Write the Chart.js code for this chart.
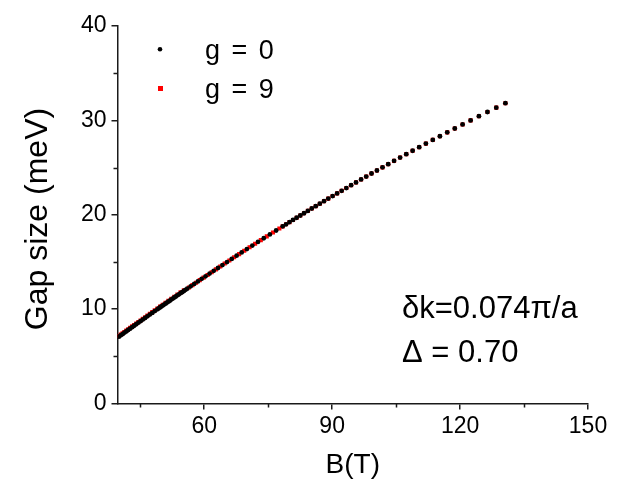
<!DOCTYPE html>
<html>
<head>
<meta charset="utf-8">
<script src="https://cdn.jsdelivr.net/npm/chart.js@4.4.1/dist/chart.umd.min.js"></script>
<style>
  html, body { margin: 0; padding: 0; background: #fff; }
  #wrap { width: 633px; height: 493px; }
</style>
</head>
<body>
<div id="wrap"><canvas id="c" width="633" height="493"></canvas></div>
<script>
// ---- data ----
const bField0 = [130.63,128.49,126.42,124.42,122.47,120.59,118.76,116.99,115.27,113.60,
  111.98,110.41,108.87,107.38,105.93,104.52,103.15,101.81,100.50,99.23,
  97.99,96.78,95.60,94.45,93.33,92.23,91.16,90.11,89.09,88.09,
  87.11,86.15,85.22,84.30,83.40,82.53,81.67,80.82,80.00,79.19,78.40,
  76.86,75.39,73.96,72.60,71.28,70.00,68.78,67.59,66.45,65.34,
  64.27,63.23,62.23,61.26,60.31,59.40,58.51,57.65,56.82,56.01,
  55.61,55.22,54.83,54.45,54.08,53.71,53.34,52.98,52.62,52.27,
  51.93,51.59,51.25,50.92,50.59,50.26,49.94,49.63,49.32,49.01,
  48.40,47.81,47.24,46.67,46.13,45.59,45.07,44.55,44.05,
  43.56,43.09,42.62,42.16,41.71,41.27,40.84,40.42,40.01];
const gap0 = [31.82,31.35,30.89,30.44,30.00,29.57,29.14,28.73,28.32,27.93,
  27.54,27.16,26.78,26.42,26.06,25.71,25.36,25.02,24.69,24.37,
  24.05,23.74,23.43,23.13,22.83,22.54,22.26,21.98,21.71,21.44,
  21.17,20.91,20.66,20.41,20.16,19.92,19.68,19.45,19.22,18.99,18.77,
  18.33,17.92,17.51,17.12,16.73,16.36,16.01,15.66,15.32,14.99,
  14.67,14.36,14.06,13.77,13.48,13.21,12.94,12.67,12.42,12.17,
  12.04,11.92,11.80,11.69,11.57,11.46,11.34,11.23,11.12,11.01,
  10.90,10.79,10.69,10.58,10.48,10.38,10.28,10.18,10.08,9.98,
  9.79,9.60,9.42,9.24,9.06,8.89,8.72,8.56,8.40,
  8.24,8.09,7.93,7.79,7.64,7.50,7.35,7.22,7.08];

const bField9 = [130.63,128.49,126.42,124.42,122.47,120.59,118.76,116.99,115.27,113.60,
  111.98,110.41,108.87,107.38,105.93,104.52,103.15,101.81,100.50,99.23,
  97.99,96.78,95.60,94.45,93.33,92.23,91.16,90.11,89.09,88.09,
  87.11,86.15,85.22,84.30,83.40,82.53,81.67,80.82,80.00,79.19,78.40,
  77.62,76.12,74.67,73.27,71.93,70.63,69.38,68.18,67.01,65.89,
  64.80,63.75,62.73,61.74,60.78,59.85,58.95,58.08,57.23,56.41,
  55.22,54.45,53.71,52.98,52.27,51.59,50.92,50.26,49.63,49.01,
  48.40,47.81,47.24,46.67,46.13,45.59,45.07,44.55,44.05,43.56,
  43.09,42.62,42.16,41.71,41.27,40.84,40.42,40.01];
const gap9 = [31.82,31.35,30.89,30.44,30.00,29.57,29.14,28.73,28.32,27.93,
  27.54,27.16,26.78,26.42,26.06,25.71,25.36,25.02,24.69,24.37,
  24.05,23.74,23.43,23.13,22.83,22.54,22.26,21.98,21.71,21.44,
  21.17,20.91,20.66,20.41,20.16,19.92,19.68,19.45,19.22,18.99,18.77,
  18.55,18.12,17.71,17.31,16.92,16.55,16.18,15.83,15.49,15.15,
  14.83,14.52,14.21,13.91,13.62,13.34,13.07,12.80,12.54,12.29,
  12.00,11.77,11.54,11.31,11.09,10.87,10.66,10.46,10.26,10.06,
  9.87,9.68,9.50,9.32,9.14,8.97,8.80,8.64,8.48,8.32,
  8.17,8.01,7.87,7.72,7.58,7.43,7.30,7.16];

const seriesLabels = ['g = 0', 'g = 9'];
const xMajorTicks = [60, 90, 120, 150];
const xMinorTicks = [45, 75, 105, 135];
const yMajorTicks = [0, 10, 20, 30, 40];
const yMinorTicks = [5, 15, 25, 35];
const xTitle = 'B(T)';
const yTitle = 'Gap size (meV)';
const noteLines = ['\u03B4k=0.074\u03C0/a', '\u0394 = 0.70'];

// ---- chart ----
const FONT = "'Liberation Sans', Arial, sans-serif";
const AXIS_COLOR = '#1a1a1a';

const minorTicksPlugin = {
  id: 'minorTicks',
  afterDraw(chart) {
    const ctx = chart.ctx;
    const xs = chart.scales.x, ys = chart.scales.y;
    ctx.save();
    ctx.strokeStyle = AXIS_COLOR;
    ctx.lineWidth = 1.5;
    ctx.beginPath();
    xMinorTicks.forEach(v => {
      const px = Math.round(xs.getPixelForValue(v)) + 0.5;
      ctx.moveTo(px, ys.bottom);
      ctx.lineTo(px, ys.bottom + 4);
    });
    yMinorTicks.forEach(v => {
      const py = Math.round(ys.getPixelForValue(v)) + 0.5;
      ctx.moveTo(xs.left, py);
      ctx.lineTo(xs.left - 4, py);
    });
    ctx.stroke();
    ctx.restore();
  }
};

const legendNotePlugin = {
  id: 'legendNote',
  afterDraw(chart) {
    const ctx = chart.ctx;
    ctx.save();
    // legend
    ctx.fillStyle = '#000';
    ctx.beginPath();
    ctx.arc(160, 49.3, 2.3, 0, Math.PI * 2);
    ctx.fill();
    ctx.fillStyle = '#ff0000';
    ctx.fillRect(158, 86, 5, 5);
    ctx.fillStyle = '#000';
    ctx.font = '27px ' + FONT;
    ctx.textBaseline = 'middle';
    ctx.textAlign = 'left';
    if ('letterSpacing' in ctx) ctx.letterSpacing = '2px';
    ctx.fillText(seriesLabels[0], 205, 52);
    ctx.fillText(seriesLabels[1], 205, 91);
    if ('letterSpacing' in ctx) ctx.letterSpacing = '0px';
    // annotation
    ctx.font = '31px ' + FONT;
    ctx.fillText(noteLines[0], 402, 309);
    ctx.fillText(noteLines[1], 402, 353);
    // y axis title
    ctx.font = '32px ' + FONT;
    ctx.textAlign = 'center';
    ctx.translate(38, 219);
    ctx.rotate(-Math.PI / 2);
    ctx.fillText(yTitle, 0, 0);
    ctx.restore();
  }
};

new Chart(document.getElementById('c'), {
  type: 'scatter',
  data: {
    datasets: [
      {
        label: seriesLabels[0],
        data: bField0.map((b, i) => ({ x: b, y: gap0[i] })),
        pointStyle: 'circle',
        pointRadius: 2.4,
        pointBorderWidth: 0,
        backgroundColor: '#000000',
        borderColor: '#000000'
      },
      {
        label: seriesLabels[1],
        data: bField9.map((b, i) => ({ x: b, y: gap9[i] })),
        pointStyle: 'rect',
        pointRadius: 2.9,
        pointBorderWidth: 0,
        backgroundColor: '#ff0000',
        borderColor: '#ff0000'
      }
    ]
  },
  options: {
    responsive: false,
    animation: false,
    events: [],
    layout: { padding: { top: 26, right: 45, left: 0, bottom: 0 } },
    plugins: {
      legend: { display: false },
      tooltip: { enabled: false }
    },
    scales: {
      x: {
        type: 'linear',
        min: 39.66,
        max: 150,
        afterBuildTicks: s => { s.ticks = xMajorTicks.map(v => ({ value: v })); },
        afterFit: s => { s.height = 89.5; },
        border: { display: true, color: AXIS_COLOR, width: 1.5 },
        grid: { drawOnChartArea: false, drawTicks: true, tickLength: 6, color: AXIS_COLOR, lineWidth: 1.5 },
        ticks: { color: '#000', font: { family: FONT, size: 23 }, padding: 3, maxRotation: 0 },
        title: { display: true, text: xTitle, color: '#000', font: { family: FONT, size: 28 }, padding: { top: 0, bottom: 11 } }
      },
      y: {
        type: 'linear',
        min: 0,
        max: 40,
        afterBuildTicks: s => { s.ticks = yMajorTicks.map(v => ({ value: v })); },
        afterFit: s => { s.width = 117.5; },
        border: { display: true, color: AXIS_COLOR, width: 1.5 },
        grid: { drawOnChartArea: false, drawTicks: true, tickLength: 6, color: AXIS_COLOR, lineWidth: 1.5 },
        ticks: { color: '#000', font: { family: FONT, size: 23 }, padding: 5 },
        title: { display: false, text: yTitle }
      }
    }
  },
  plugins: [minorTicksPlugin, legendNotePlugin]
});
</script>
</body>
</html>
